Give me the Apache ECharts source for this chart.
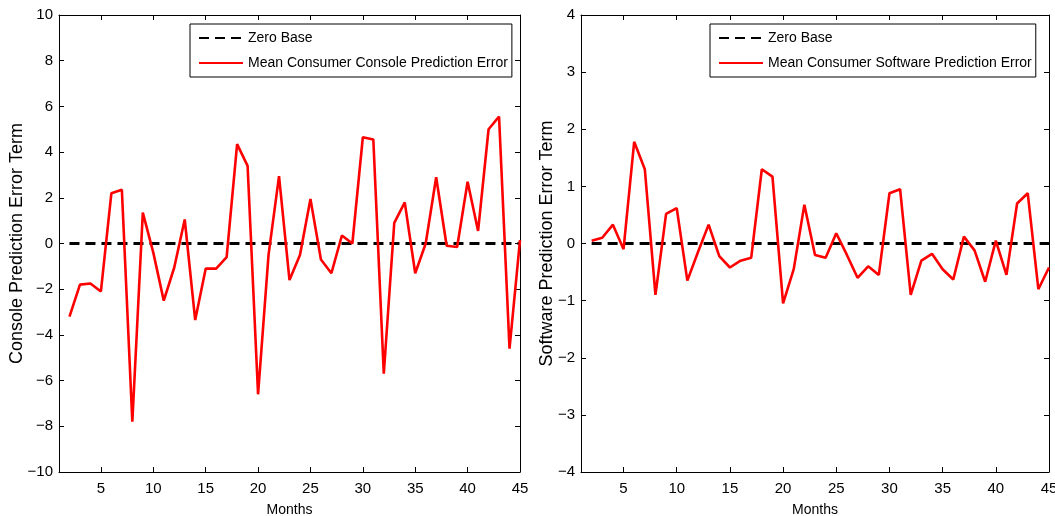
<!DOCTYPE html>
<html>
<head>
<meta charset="utf-8">
<script src="https://cdn.jsdelivr.net/npm/echarts@6/dist/echarts.min.js"></script>
<style>
html,body{margin:0;padding:0;background:#fff;}
#chart{width:1055px;height:516px;}
</style>
</head>
<body>
<div id="chart"></div>
<script>
// ---- data ----
var months = [2,3,4,5,6,7,8,9,10,11,12,13,14,15,16,17,18,19,20,21,22,23,24,25,26,27,28,29,30,31,32,33,34,35,36,37,38,39,40,41,42,43,44,45];
var consoleError = [-3.2,-1.8,-1.75,-2.1,2.2,2.35,-7.8,1.35,-0.4,-2.5,-1.05,1.05,-3.35,-1.1,-1.1,-0.6,4.35,3.4,-6.6,-0.5,2.95,-1.6,-0.5,1.95,-0.7,-1.3,0.35,0.0,4.65,4.55,-5.7,0.9,1.8,-1.3,0.0,2.9,-0.1,-0.15,2.7,0.55,5.0,5.55,-4.6,0.15];
var softwareError = [0.05,0.1,0.33,-0.1,1.78,1.3,-0.9,0.52,0.62,-0.65,-0.15,0.33,-0.22,-0.42,-0.3,-0.25,1.3,1.17,-1.05,-0.45,0.68,-0.2,-0.25,0.18,-0.2,-0.6,-0.4,-0.55,0.88,0.95,-0.9,-0.3,-0.18,-0.45,-0.63,0.12,-0.12,-0.67,0.05,-0.55,0.7,0.88,-0.8,-0.42];
var zeroBase = [0, 0];
var zeroBaseX = [2, 45];
var xTicks = [5,10,15,20,25,30,35,40,45];
var leftYTicks = {min:-10, max:10, interval:2};
var rightYTicks = {min:-4, max:4, interval:1};
var names = {
  zero: 'Zero Base',
  console: 'Mean Consumer Console Prediction Error',
  software: 'Mean Consumer Software Prediction Error',
  xName: 'Months',
  yConsole: 'Console Prediction Error Term',
  ySoftware: 'Software Prediction Error Term'
};

function pairs(xs, ys){ return xs.map(function(x,i){ return [x, ys[i]]; }); }
var FONT = '"Liberation Sans", Arial, Helvetica, sans-serif';
function fmt(v){ return String(v).replace('-', '\u2212'); }

function xAx(gridIndex, pos){
  var bottom = pos === 'bottom';
  return {
    type:'value', gridIndex:gridIndex, position:pos, min:1, max:45,
    name: bottom ? names.xName : '', nameLocation:'middle', nameGap:31,
    nameTextStyle:{fontFamily:FONT, fontSize:14, color:'#000'},
    axisLine:{show:true, onZero:false, lineStyle:{color:'#000', width:1}},
    axisTick:{show:true, inside:true, length:5, customValues:xTicks, lineStyle:{color:'#000'}},
    axisLabel:{show:bottom, customValues:xTicks, margin:9, fontFamily:FONT, fontSize:15, color:'#000'},
    splitLine:{show:false}
  };
}
function yAx(gridIndex, pos, t, name, gap){
  var left = pos === 'left';
  return {
    type:'value', gridIndex:gridIndex, position:pos, min:t.min, max:t.max, interval:t.interval,
    name: left ? name : '', nameLocation:'middle', nameGap:gap, nameRotate:90,
    nameMoveOverlap:false,
    nameTextStyle:{fontFamily:FONT, fontSize:18, color:'#000'},
    axisLine:{show:true, onZero:false, lineStyle:{color:'#000', width:1}},
    axisTick:{show:true, inside:true, length:5, lineStyle:{color:'#000'}},
    axisLabel:{show:left, margin:6, fontFamily:FONT, fontSize:15, color:'#000', formatter:fmt},
    splitLine:{show:false}
  };
}
function legend(left, seriesName){
  return {
    left:left, top:24, orient:'vertical',
    data:[names.zero, seriesName],
    borderColor:'#000', borderWidth:1, backgroundColor:'#fff',
    padding:[7,4,7,8], itemWidth:44, itemHeight:14, itemGap:11,
    selectedMode:false,
    itemStyle:{opacity:0, color:'rgba(0,0,0,0)', borderWidth:0},
    textStyle:{fontFamily:FONT, fontSize:14, color:'#000'}
  };
}

var chart = echarts.init(document.getElementById('chart'), null, {renderer:'canvas'});
chart.setOption({
  animation:false,
  backgroundColor:'#fff',
  grid:[
    {left:59, right:535, top:15, bottom:44, containLabel:false, outerBoundsMode:'none'},
    {left:581, right:6, top:15, bottom:44, containLabel:false, outerBoundsMode:'none'}
  ],
  xAxis:[xAx(0,'bottom'), xAx(0,'top'), xAx(1,'bottom'), xAx(1,'top')],
  yAxis:[yAx(0,'left',leftYTicks,names.yConsole,33), yAx(0,'right',leftYTicks,'',0),
         yAx(1,'left',rightYTicks,names.ySoftware,25), yAx(1,'right',rightYTicks,'',0)],
  legend:[legend(190, names.console), legend(710, names.software)],
  series:[
    {name:names.zero, type:'line', xAxisIndex:0, yAxisIndex:0, data:pairs(zeroBaseX, zeroBase),
     symbol:'none', lineStyle:{color:'#000', width:3, type:[10,6]}, itemStyle:{color:'#000'}, z:2},
    {name:names.console, type:'line', xAxisIndex:0, yAxisIndex:0, data:pairs(months, consoleError),
     symbol:'none', lineStyle:{color:'#ff0000', width:2.6}, itemStyle:{color:'#ff0000'}, z:3},
    {name:names.zero, type:'line', xAxisIndex:2, yAxisIndex:2, data:pairs(zeroBaseX, zeroBase),
     symbol:'none', lineStyle:{color:'#000', width:3, type:[10,6]}, itemStyle:{color:'#000'}, z:2},
    {name:names.software, type:'line', xAxisIndex:2, yAxisIndex:2, data:pairs(months, softwareError),
     symbol:'none', lineStyle:{color:'#ff0000', width:2.6}, itemStyle:{color:'#ff0000'}, z:3}
  ]
});
</script>
</body>
</html>
